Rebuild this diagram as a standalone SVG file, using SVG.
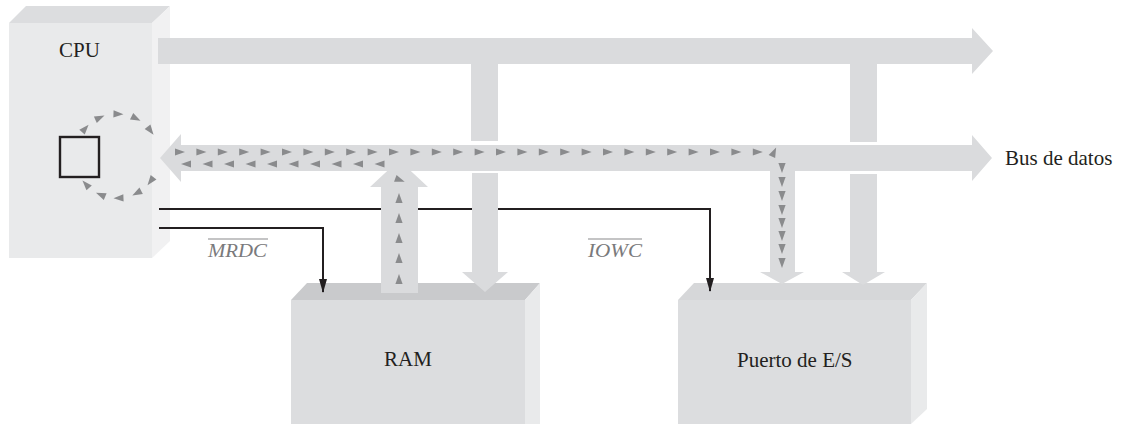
<svg xmlns="http://www.w3.org/2000/svg" xmlns:xlink="http://www.w3.org/1999/xlink" width="1121" height="424" viewBox="0 0 1121 424">
  <style>
    .lbl { font-family: "Liberation Serif", "DejaVu Serif", serif; font-size: 21px; fill: #231f20; }
    .sig { font-family: "Liberation Serif", "DejaVu Serif", serif; font-size: 18px; font-style: italic; fill: #7a7a7c; }
    .ovl { stroke: #8a8a8c; stroke-width: 1.2; }
    .bus { fill: #dadbdd; }
    .ctl { fill: none; stroke: #231f20; stroke-width: 2; }
    .tri { fill: #8a8b8d; }
  </style>
  <defs>
    <marker id="ah" markerUnits="userSpaceOnUse" markerWidth="14" markerHeight="8" viewBox="0 0 14 8" refX="13" refY="4" orient="auto">
      <path d="M0,0 L14,4 L0,8 Z" fill="#231f20"/>
    </marker>
    <path id="t" class="tri" d="M-5,-3.6 L5,0 L-5,3.6 Z"/>
  </defs>
  <rect width="1121" height="424" fill="#ffffff"/>

  <g id="cpu">
    <polygon points="9,23 152,23 152,258 9,258" fill="#e9eaeb"/>
    <polygon points="9,23 26,6 170,6 152,23" fill="#dcdddf"/>
    <polygon points="152,23 170,6 170,241 152,258" fill="#f1f1f2"/>
    <text class="lbl" x="59" y="57">CPU</text>
    <rect x="60" y="137" width="39" height="40" fill="none" stroke="#231f20" stroke-width="2.4"/>
  </g>

  <g id="ram">
    <polygon points="291,300 525,300 525,424 291,424" fill="#dcdddf"/>
    <polygon points="291,300 307,283 540,283 525,300" fill="#c9cacc"/>
    <polygon points="525,300 540,283 540,424 525,424" fill="#e9eaeb"/>
    <text class="lbl" x="408" y="366" text-anchor="middle">RAM</text>
  </g>

  <g id="puerto">
    <polygon points="678,300 911,300 911,424 678,424" fill="#dcdddf"/>
    <polygon points="678,300 694,283 927,283 911,300" fill="#d6d7d9"/>
    <polygon points="911,300 927,283 927,409 911,424" fill="#e9eaeb"/>
    <text class="lbl" x="737" y="367">Puerto de E/S</text>
  </g>

  <g id="connectors">
    <path class="ctl" d="M159,209 H710 V291" marker-end="url(#ah)"/>
    <path class="ctl" d="M159,228 H323 V292" marker-end="url(#ah)"/>

    <polygon class="bus" points="158,38 972,38 972,28 993,51 972,74 972,64 158,64"/>
    <rect class="bus" x="471" y="64" width="27" height="77"/>
    <rect class="bus" x="850" y="64" width="27" height="78"/>
    <polygon class="bus" points="472,173 498,173 498,272 508,272 485,292 462,272 472,272"/>
    <polygon class="bus" points="850,174 877,174 877,272 885,272 863,285 842,272 850,272"/>
    <polygon class="bus" points="770,168 795,168 795,272 804,272 782,284 760,272 770,272"/>
    <polygon class="bus" points="381,293 381,187 370,187 399,160 428,187 418,187 418,293"/>
    <polygon class="bus" points="181,145 972,145 972,135 992,158 972,181 972,171 181,171 181,182 160,158 181,134"/>

    <g id="flow-top">
      <use xlink:href="#t" href="#t" transform="translate(180,152)"/>
      <use xlink:href="#t" href="#t" transform="translate(201.4,152)"/>
      <use xlink:href="#t" href="#t" transform="translate(222.8,152)"/>
      <use xlink:href="#t" href="#t" transform="translate(244.2,152)"/>
      <use xlink:href="#t" href="#t" transform="translate(265.6,152)"/>
      <use xlink:href="#t" href="#t" transform="translate(287,152)"/>
      <use xlink:href="#t" href="#t" transform="translate(308.4,152)"/>
      <use xlink:href="#t" href="#t" transform="translate(329.8,152)"/>
      <use xlink:href="#t" href="#t" transform="translate(351.2,152)"/>
      <use xlink:href="#t" href="#t" transform="translate(372.6,152)"/>
      <use xlink:href="#t" href="#t" transform="translate(394,152)"/>
      <use xlink:href="#t" href="#t" transform="translate(415.4,152)"/>
      <use xlink:href="#t" href="#t" transform="translate(436.8,152)"/>
      <use xlink:href="#t" href="#t" transform="translate(458.2,152)"/>
      <use xlink:href="#t" href="#t" transform="translate(479.6,152)"/>
      <use xlink:href="#t" href="#t" transform="translate(501,152)"/>
      <use xlink:href="#t" href="#t" transform="translate(522.4,152)"/>
      <use xlink:href="#t" href="#t" transform="translate(543.8,152)"/>
      <use xlink:href="#t" href="#t" transform="translate(565.2,152)"/>
      <use xlink:href="#t" href="#t" transform="translate(586.6,152)"/>
      <use xlink:href="#t" href="#t" transform="translate(608,152)"/>
      <use xlink:href="#t" href="#t" transform="translate(629.4,152)"/>
      <use xlink:href="#t" href="#t" transform="translate(650.8,152)"/>
      <use xlink:href="#t" href="#t" transform="translate(672.2,152)"/>
      <use xlink:href="#t" href="#t" transform="translate(693.6,152)"/>
      <use xlink:href="#t" href="#t" transform="translate(715,152)"/>
      <use xlink:href="#t" href="#t" transform="translate(736.4,152)"/>
      <use xlink:href="#t" href="#t" transform="translate(757.8,152)"/>
      <use xlink:href="#t" href="#t" transform="translate(774,152) rotate(-65)"/>
    </g>
    <g id="flow-down">
      <use xlink:href="#t" href="#t" transform="translate(782,168) rotate(90)"/>
      <use xlink:href="#t" href="#t" transform="translate(782,182) rotate(90)"/>
      <use xlink:href="#t" href="#t" transform="translate(782,196) rotate(90)"/>
      <use xlink:href="#t" href="#t" transform="translate(782,210) rotate(90)"/>
      <use xlink:href="#t" href="#t" transform="translate(782,223) rotate(90)"/>
      <use xlink:href="#t" href="#t" transform="translate(782,236) rotate(90)"/>
      <use xlink:href="#t" href="#t" transform="translate(782,249) rotate(90)"/>
      <use xlink:href="#t" href="#t" transform="translate(782,263) rotate(90)"/>
    </g>
    <g id="flow-bottom">
      <use xlink:href="#t" href="#t" transform="translate(186,164) rotate(180)"/>
      <use xlink:href="#t" href="#t" transform="translate(207.5,164) rotate(180)"/>
      <use xlink:href="#t" href="#t" transform="translate(229,164) rotate(180)"/>
      <use xlink:href="#t" href="#t" transform="translate(250.5,164) rotate(180)"/>
      <use xlink:href="#t" href="#t" transform="translate(272,164) rotate(180)"/>
      <use xlink:href="#t" href="#t" transform="translate(293.5,164) rotate(180)"/>
      <use xlink:href="#t" href="#t" transform="translate(315,164) rotate(180)"/>
      <use xlink:href="#t" href="#t" transform="translate(336.5,164) rotate(180)"/>
      <use xlink:href="#t" href="#t" transform="translate(358,164) rotate(180)"/>
      <use xlink:href="#t" href="#t" transform="translate(379.5,164) rotate(180)"/>
    </g>
    <g id="flow-up">
      <use xlink:href="#t" href="#t" transform="translate(400,180) rotate(20)"/>
      <use xlink:href="#t" href="#t" transform="translate(399,198) rotate(-90)"/>
      <use xlink:href="#t" href="#t" transform="translate(399,218) rotate(-90)"/>
      <use xlink:href="#t" href="#t" transform="translate(399,238) rotate(-90)"/>
      <use xlink:href="#t" href="#t" transform="translate(399,258) rotate(-90)"/>
      <use xlink:href="#t" href="#t" transform="translate(399,279) rotate(-90)"/>
    </g>
    <g id="flow-cpu" transform="translate(117,156)">
      <use xlink:href="#t" href="#t" transform="rotate(221) translate(42,0) rotate(90)"/>
      <use xlink:href="#t" href="#t" transform="rotate(246) translate(42,0) rotate(90)"/>
      <use xlink:href="#t" href="#t" transform="rotate(272) translate(42,0) rotate(90)"/>
      <use xlink:href="#t" href="#t" transform="rotate(297) translate(42,0) rotate(90)"/>
      <use xlink:href="#t" href="#t" transform="rotate(323) translate(42,0) rotate(90)"/>
      <use xlink:href="#t" href="#t" transform="rotate(37) translate(42,0) rotate(90)"/>
      <use xlink:href="#t" href="#t" transform="rotate(62) translate(42,0) rotate(90)"/>
      <use xlink:href="#t" href="#t" transform="rotate(88) translate(42,0) rotate(90)"/>
      <use xlink:href="#t" href="#t" transform="rotate(113) translate(42,0) rotate(90)"/>
      <use xlink:href="#t" href="#t" transform="rotate(138) translate(42,0) rotate(90)"/>
    </g>
  </g>

  <g id="labels">
    <text class="sig" x="208" y="257" textLength="59" lengthAdjust="spacingAndGlyphs">MRDC</text>
    <line class="ovl" x1="208" y1="239" x2="268" y2="239"/>
    <text class="sig" x="588" y="257" textLength="54" lengthAdjust="spacingAndGlyphs">IOWC</text>
    <line class="ovl" x1="588" y1="239" x2="642" y2="239"/>
    <text class="lbl" x="1005" y="165">Bus de datos</text>
  </g>
</svg>
